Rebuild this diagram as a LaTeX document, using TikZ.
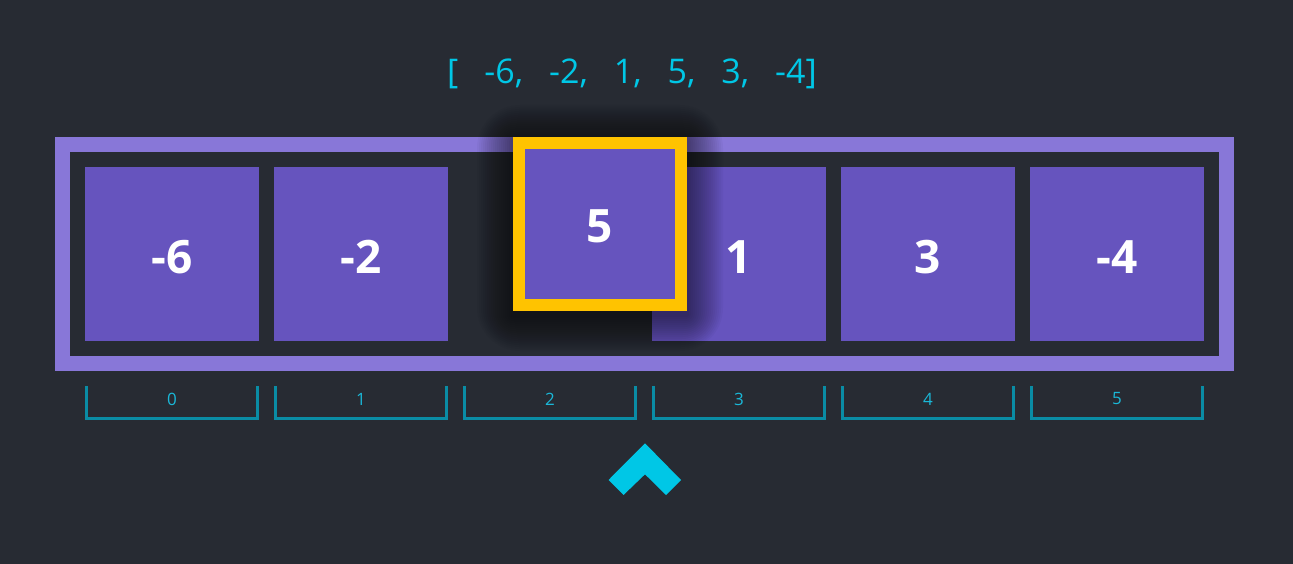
\documentclass[tikz,border=0pt]{standalone}
\usepackage{fontspec}
\setmainfont{Open Sans}
\definecolor{bg}{HTML}{272B33}
\definecolor{lav}{HTML}{8877D8}
\definecolor{cellc}{HTML}{6654BE}
\definecolor{gold}{HTML}{FFC300}
\definecolor{cyanc}{HTML}{00C7E6}
\definecolor{brk}{HTML}{0A8CA5}
\definecolor{idxc}{HTML}{1AB8D8}
\tikzset{
  cell/.style={fill=cellc, minimum size=174pt, inner sep=0pt, text=white,
    font=\fontsize{46}{50}\selectfont\bfseries, text height=38pt, text depth=0pt},
  hot/.style={fill=cellc, draw=gold, line width=12pt, minimum size=162pt, inner sep=0pt,
    text=white, font=\fontsize{46}{50}\selectfont\bfseries, text height=38pt, text depth=0pt},
  glow/.style={fill=black, opacity=0.032},
  bracket/.style={draw=brk, line width=3pt},
  idx/.style={text=idxc, font=\fontsize{17}{20}\selectfont, inner sep=0pt},
}
\begin{document}
\begin{tikzpicture}[x=1pt,y=-1pt]
\fill[bg] (0,0) rectangle (1293,564);
\useasboundingbox (0,0) rectangle (1293,564);
\node[text=cyanc, font=\fontsize{34}{40}\selectfont, inner sep=0pt] (title) at (632,74)
  {[\hspace{26pt}-6,\hspace{26pt}-2,\hspace{26pt}1,\hspace{26pt}5,\hspace{26pt}3,\hspace{26pt}-4]};
\fill[lav] (55,137) rectangle (1234,371);
\fill[bg] (70,152) rectangle (1219,356);
\node[cell] (c0) at (172,254) {-6};
\node[cell] (c1) at (361,254) {-2};
\node[cell] (c3) at (739,254) {1};
\node[cell] (c4) at (928,254) {3};
\node[cell] (c5) at (1117,254) {-4};
\foreach \k in {1,...,18}{
  \fill[glow, rounded corners=2.4*\k] (513-2*\k,137-2*\k+4) rectangle (687+2*\k,311+2*\k+4);
}
\node[hot] (c2) at (600,224) {5};
\foreach \i/\x in {0/172,1/361,2/550,3/739,4/928,5/1117}{
  \draw[bracket] (\x-85.5,386) -- (\x-85.5,418.5) -- (\x+85.5,418.5) -- (\x+85.5,386);
  \node[idx] (i\i) at (\x,399) {\i};
}
\fill[cyanc] (645,443.3) -- (681,480) -- (666,495) -- (645,474.3) -- (623.5,495) -- (608.5,480) -- cycle;
\end{tikzpicture}
\end{document}
